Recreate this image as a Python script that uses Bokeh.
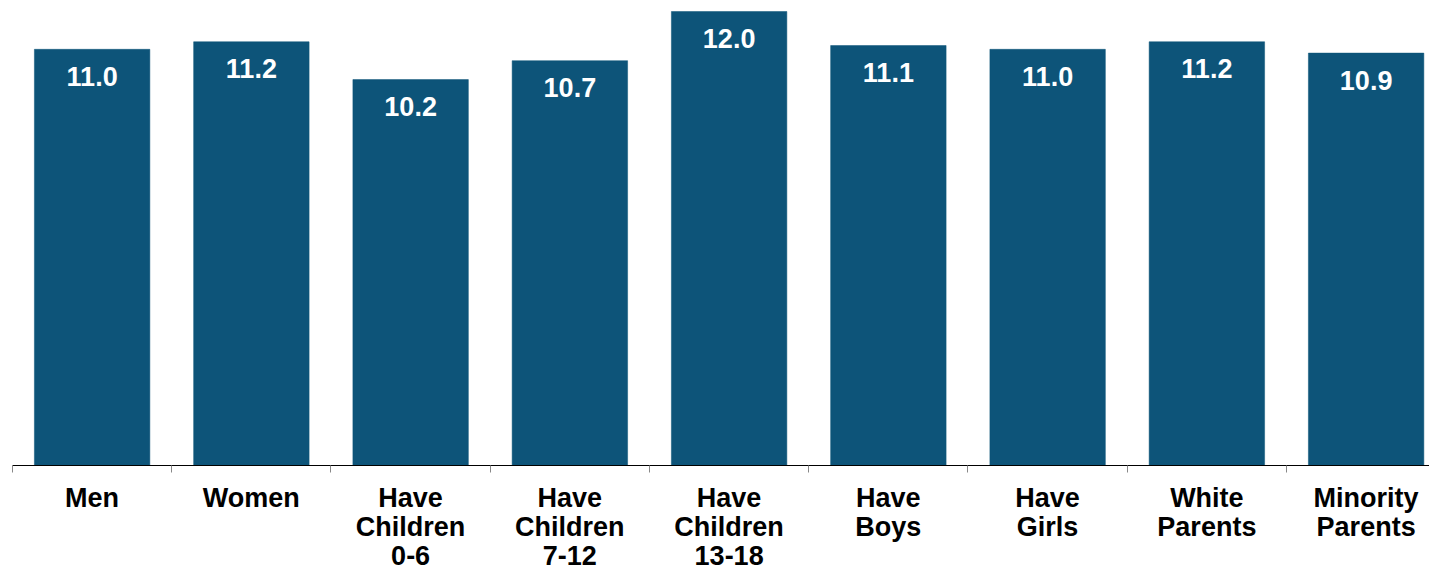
from bokeh.plotting import figure
from bokeh.models import ColumnDataSource, FixedTicker, Range1d
from bokeh.core.properties import value
from bokeh.embed import file_html
from bokeh.resources import INLINE

categories = ["Men", "Women", "Have\nChildren\n0-6", "Have\nChildren\n7-12",
              "Have\nChildren\n13-18", "Have\nBoys", "Have\nGirls",
              "White\nParents", "Minority\nParents"]
values = [11.0, 11.2, 10.2, 10.7, 12.0, 11.1, 11.0, 11.2, 10.9]

BAR = "#0D5479"
FONT = "Liberation Sans"

xs = list(range(len(categories)))
src = ColumnDataSource(dict(x=xs, top=values, label=[f"{v:.1f}" for v in values]))

p = figure(output_backend="svg", toolbar_location=None,
           frame_width=1417, frame_height=457,
           x_range=Range1d(-0.5, 8.398), y_range=Range1d(0, 12.079),
           min_border_left=12, min_border_right=0, min_border_top=8, min_border_bottom=0)

p.vbar(x="x", top="top", width=0.725, source=src, fill_color=BAR, line_color=BAR, line_width=0.5)
p.text(x="x", y="top", text="label", source=src, text_color="white",
       text_font=value(FONT), text_font_style="bold", text_font_size="27px",
       text_align="center", text_baseline="middle", y_offset=27)

p.yaxis.visible = False
p.xgrid.visible = False
p.ygrid.visible = False
p.outline_line_color = None

ax = p.xaxis[0]
ax.ticker = FixedTicker(ticks=xs, minor_ticks=[i - 0.5 for i in range(len(categories) + 1)])
ax.major_label_overrides = {i: c for i, c in zip(xs, categories)}
ax.major_tick_out = 0
ax.major_tick_in = 0
ax.minor_tick_in = 0
ax.minor_tick_out = 7
ax.minor_tick_line_color = "#888888"
ax.axis_line_color = "black"
ax.axis_line_width = 1.2
ax.major_label_text_font = FONT
ax.major_label_text_font_style = "bold"
ax.major_label_text_font_size = "27px"
ax.major_label_text_line_height = 0.977
ax.major_label_text_color = "black"
ax.major_label_standoff = 10

html = file_html(p, INLINE)
html = html.replace("<head>", "<head><style>html,body{overflow:hidden;}</style>", 1)
open("out.html", "w").write(html)
